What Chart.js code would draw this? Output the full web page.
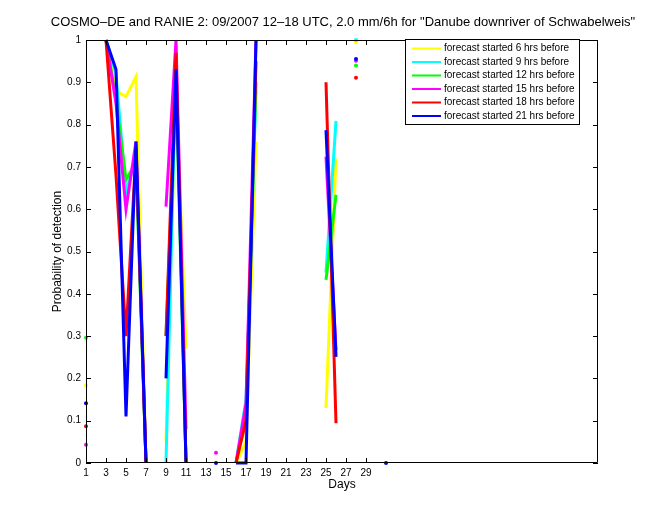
<!DOCTYPE html>
<html>
<head>
<meta charset="utf-8">
<script src="https://cdn.jsdelivr.net/npm/chart.js@4.4.1/dist/chart.umd.min.js"></script>
<style>
  html, body { margin: 0; padding: 0; background: #fff; }
</style>
</head>
<body>
<canvas id="chart" width="660" height="520"></canvas>
<script>
// day of month, one value per day (12-18 UTC)
const days = [1, 2, 3, 4, 5, 6, 7, 8, 9, 10, 11, 12, 13, 14, 15, 16, 17, 18, 19, 20, 21, 22, 23, 24, 25, 26, 27, 28, 29, 30, 31];

const pod06 = [0.183, null, 1.0, 0.88, 0.866, 0.913, 0, null, 0.05, 0.9, 0.27, null, null, null, null, 0, 0.05, 0.76, null, null, null, null, null, null, 0.13, 0.72, null, 0.995, null, null, null];
const pod09 = [null, null, 1.0, 0.92, 0.64, 0.72, 0, null, 0, 0.95, 0, null, null, null, null, 0, 0.15, 0.88, null, null, null, null, null, null, 0.45, 0.809, null, 1.0, null, null, null];
const pod12 = [0.296, null, 1.0, 0.86, 0.67, 0.71, 0, null, 0.3, 0.9, 0, null, null, null, null, 0, 0.12, 0.9, null, null, null, null, null, null, 0.433, 0.634, null, 0.94, null, null, null];
const pod15 = [0.043, null, 1.0, 0.85, 0.6, 0.76, 0, null, 0.606, 1.0, 0.08, null, null, 0.024, null, 0, 0.14, 1.0, null, null, null, null, null, null, 0.724, 0.267, null, 0.951, null, null, null];
const pod18 = [0.087, null, 1.0, 0.68, 0.3, 0.74, 0, null, 0.3, 0.97, 0, null, null, null, null, 0, 0.1, 0.95, null, null, null, null, null, null, 0.9, 0.094, null, 0.911, null, null, null];
const pod21 = [0.141, null, 1.0, 0.93, 0.11, 0.76, 0, null, 0.2, 0.93, 0, null, null, 0, null, 0, 0, 1.0, null, null, null, null, null, null, 0.787, 0.251, null, 0.955, null, null, 0];

const xTicks = [1, 3, 5, 7, 9, 11, 13, 15, 17, 19, 21, 23, 25, 27, 29];
const yTicks = [0, 0.1, 0.2, 0.3, 0.4, 0.5, 0.6, 0.7, 0.8, 0.9, 1];

const seriesDefs = [
    { label: 'forecast started 6 hrs before',  data: pod06, color: '#ffff00' },
    { label: 'forecast started 9 hrs before',  data: pod09, color: '#00ffff' },
    { label: 'forecast started 12 hrs before', data: pod12, color: '#00ff00' },
    { label: 'forecast started 15 hrs before', data: pod15, color: '#ff00ff' },
    { label: 'forecast started 18 hrs before', data: pod18, color: '#ff0000' },
    { label: 'forecast started 21 hrs before', data: pod21, color: '#0000ff' },
];

const FONT = '"Liberation Sans", Arial, Helvetica, sans-serif';

function isolated(ctx) {
    const d = ctx.dataset.data;
    const i = ctx.dataIndex;
    if (!d[i] || d[i].y === null) return false;
    const prev = i > 0 ? d[i - 1].y : null;
    const next = i < d.length - 1 ? d[i + 1].y : null;
    return prev === null && next === null;
}

const datasets = seriesDefs.map((s, i) => ({
    label: s.label,
    data: days.map((day, k) => ({ x: day, y: s.data[k] })),
    borderColor: s.color,
    backgroundColor: s.color,
    borderWidth: 3,
    pointRadius: ctx => isolated(ctx) ? 2 : 0,
    pointBorderWidth: 0,
    pointBackgroundColor: s.color,
    spanGaps: false,
    fill: false,
    tension: 0,
    clip: 3,
    order: seriesDefs.length - i,   // later series on top, like MATLAB
}));

// box, inward ticks, title, axis labels, legend
const matlabFrame = {
    id: 'matlabFrame',
    afterDraw(chart) {
        const { ctx, chartArea: a, scales: { x, y } } = chart;
        ctx.save();
        ctx.strokeStyle = '#000';
        ctx.lineWidth = 1;
        ctx.beginPath();
        ctx.rect(a.left + 0.5, a.top + 0.5, a.right - a.left - 1, a.bottom - a.top - 1);
        const tl = 5;
        xTicks.forEach(v => {
            const px = Math.round(x.getPixelForValue(v)) + 0.5;
            ctx.moveTo(px, a.bottom); ctx.lineTo(px, a.bottom - tl);
            ctx.moveTo(px, a.top); ctx.lineTo(px, a.top + tl);
        });
        yTicks.forEach(v => {
            const py = Math.round(y.getPixelForValue(v)) + 0.5;
            ctx.moveTo(a.left, py); ctx.lineTo(a.left + tl, py);
            ctx.moveTo(a.right, py); ctx.lineTo(a.right - tl, py);
        });
        ctx.stroke();

        ctx.fillStyle = '#000';
        ctx.textAlign = 'center';
        ctx.textBaseline = 'middle';
        ctx.font = '13px ' + FONT;
        ctx.fillText('COSMO\u2013DE and RANIE 2: 09/2007 12\u201318 UTC, 2.0 mm/6h for "Danube downriver of Schwabelweis"', 343, 22);
        ctx.font = '12px ' + FONT;
        ctx.fillText('Days', (a.left + a.right) / 2, 485);
        ctx.save();
        ctx.translate(58, (a.top + a.bottom) / 2);
        ctx.rotate(-Math.PI / 2);
        ctx.fillText('Probability of detection', 0, 0);
        ctx.restore();

        // legend
        const lx = 405, ly = 39, lw = 174, lh = 85;
        ctx.fillStyle = '#fff';
        ctx.fillRect(lx, ly, lw, lh);
        ctx.strokeRect(lx + 0.5, ly + 0.5, lw, lh);
        ctx.font = '10px ' + FONT;
        ctx.textAlign = 'left';
        seriesDefs.forEach((s, i) => {
            const ry = 48.5 + i * 13.5;
            ctx.strokeStyle = s.color;
            ctx.lineWidth = 2;
            ctx.beginPath();
            ctx.moveTo(412, ry); ctx.lineTo(441, ry);
            ctx.stroke();
            ctx.fillStyle = '#000';
            ctx.fillText(s.label, 444, ry);
        });
        ctx.restore();
    }
};

new Chart(document.getElementById('chart'), {
    type: 'line',
    data: { datasets },
    options: {
        responsive: false,
        animation: false,
        events: [],
        devicePixelRatio: 1,
        layout: { padding: { left: 0, right: 62, top: 40, bottom: 0 } },
        plugins: { legend: { display: false }, tooltip: { enabled: false } },
        scales: {
            x: {
                type: 'linear',
                min: 1,
                max: 52.2,
                afterBuildTicks: s => { s.ticks = xTicks.map(v => ({ value: v })); },
                afterFit: s => { s.height = 57; },
                grid: { display: false, drawTicks: false },
                border: { display: false },
                ticks: { color: '#000', font: { family: FONT, size: 10 }, padding: 4, maxRotation: 0, autoSkip: false },
            },
            y: {
                min: 0,
                max: 1,
                afterBuildTicks: s => { s.ticks = yTicks.map(v => ({ value: v })); },
                afterFit: s => { s.width = 86; },
                grid: { display: false, drawTicks: false },
                border: { display: false },
                ticks: { color: '#000', font: { family: FONT, size: 10 }, padding: 5, callback: v => String(Math.round(v * 10) / 10) },
            },
        },
    },
    plugins: [matlabFrame],
});
</script>
</body>
</html>
